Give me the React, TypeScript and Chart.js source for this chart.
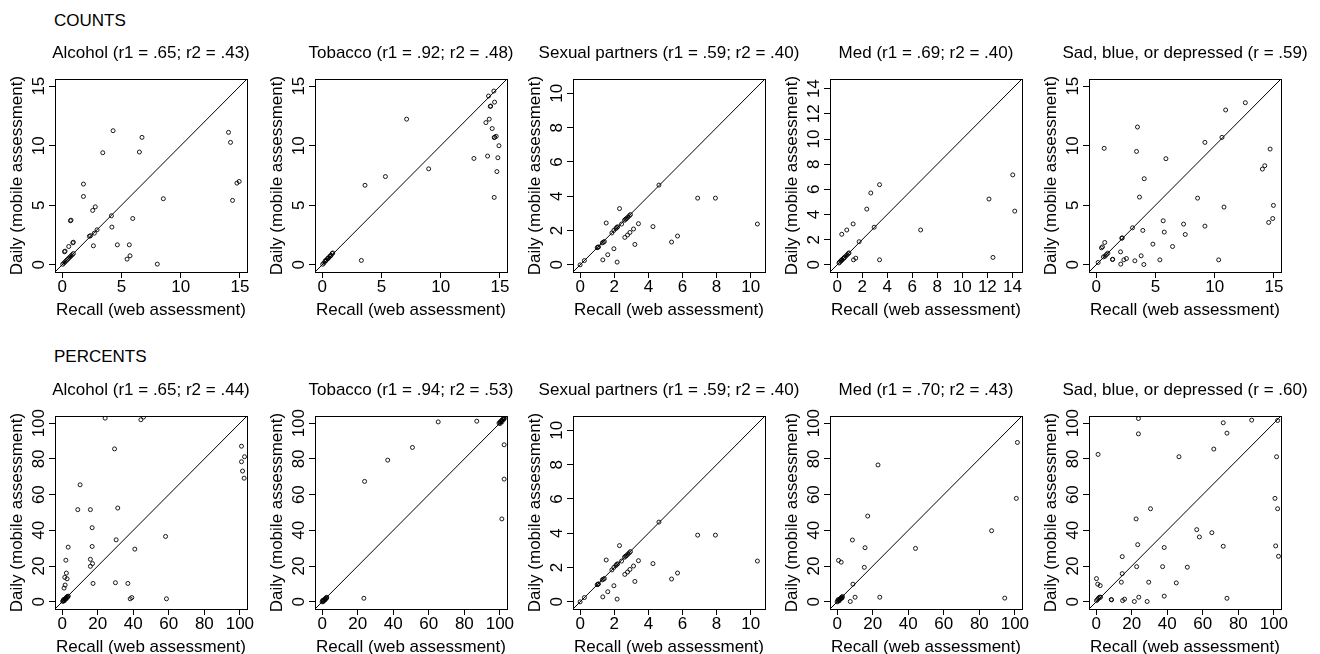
import React, { useEffect, useRef } from "react";
import { Chart, registerables } from "chart.js";

Chart.register(...registerables);

const FONT = "'Liberation Sans', Arial, Helvetica, sans-serif";
const FONT_SIZE = 17;

// ---------- tick labels ----------
const ticks15 = [0, 5, 10, 15];
const ticksSex = [0, 2, 4, 6, 8, 10];
const ticksMed = [0, 2, 4, 6, 8, 10, 12, 14];
const ticksPct = [0, 20, 40, 60, 80, 100];

// ---------- axis data ranges (R adds 4% on each side) ----------
const range15 = [0, 15];
const rangeSex = [0, 10.42];
const rangeMed = [0, 14.2];
const rangePct = [0, 100];

// ---------- text ----------
const rowLabels = ["COUNTS", "PERCENTS"];
const xTitle = "Recall (web assessment)";
const yTitle = "Daily (mobile assessment)";
const countTitles = [
  "Alcohol (r1 = .65; r2 = .43)",
  "Tobacco (r1 = .92; r2 = .48)",
  "Sexual partners (r1 = .59; r2 = .40)",
  "Med (r1 = .69; r2 = .40)",
  "Sad, blue, or depressed (r = .59)",
];
const pctTitles = [
  "Alcohol (r1 = .65; r2 = .44)",
  "Tobacco (r1 = .94; r2 = .53)",
  "Sexual partners (r1 = .59; r2 = .40)",
  "Med (r1 = .70; r2 = .43)",
  "Sad, blue, or depressed (r = .60)",
];

// ---------- COUNTS data ----------
const alcCntX = [0.05, 0.15, 0.25, 0.35, 0.45, 0.55, 0.65, 0.75, 0.85, 0.95, 0.2, 0.25, 0.56, 0.9, 0.95, 0.7, 0.75, 1.8, 1.8, 2.3, 2.4, 2.58, 2.64, 2.72, 2.8, 2.95, 3.43, 4.16, 4.2, 4.3, 4.66, 5.48, 5.67, 5.73, 5.96, 6.52, 6.74, 8.03, 8.54, 14.04, 14.21, 14.38, 14.75, 14.94];
const alcCntY = [0.05, 0.15, 0.25, 0.35, 0.45, 0.55, 0.65, 0.75, 0.85, 0.95, 1.1, 1.15, 1.54, 1.85, 1.9, 3.7, 3.75, 6.78, 5.74, 2.4, 2.45, 4.57, 1.6, 2.66, 4.87, 2.94, 9.41, 4.12, 3.17, 11.26, 1.68, 0.48, 1.68, 0.76, 3.89, 9.47, 10.7, 0.06, 5.55, 11.12, 10.28, 5.41, 6.86, 7.0];

const tobCntX = [0.05, 0.15, 0.25, 0.3, 0.35, 0.45, 0.5, 0.55, 0.65, 0.7, 0.75, 0.85, 0.9, 3.31, 3.62, 5.34, 7.13, 8.99, 12.81, 13.96, 13.82, 14.1, 14.04, 14.49, 14.19, 14.22, 14.55, 14.35, 14.52, 14.56, 14.69, 14.92, 14.83, 14.75, 14.52];
const tobCntY = [0.05, 0.15, 0.3, 0.35, 0.4, 0.5, 0.55, 0.6, 0.7, 0.75, 0.8, 0.95, 1.0, 0.37, 6.68, 7.41, 12.23, 8.06, 8.93, 9.13, 11.94, 12.23, 14.17, 14.59, 13.3, 13.33, 13.66, 11.44, 10.68, 10.72, 10.79, 10.0, 8.99, 7.83, 5.66];

const sexX = [0, 0.25, 1.0, 1.04, 1.08, 1.33, 1.3, 1.36, 1.42, 1.53, 1.62, 1.86, 1.98, 1.98, 2.17, 2.1, 2.15, 2.2, 2.31, 2.43, 2.62, 2.6, 2.66, 2.72, 2.8, 2.88, 2.95, 2.78, 2.92, 3.13, 3.21, 3.42, 4.27, 4.62, 5.36, 5.71, 6.89, 7.93, 10.39];
const sexY = [0, 0.25, 1.0, 1.02, 1.05, 0.29, 1.28, 1.32, 1.36, 2.44, 0.59, 1.86, 0.94, 2.01, 0.16, 2.12, 2.18, 2.22, 3.28, 2.38, 1.6, 2.6, 2.66, 2.7, 2.78, 2.86, 2.93, 1.74, 1.89, 2.09, 1.19, 2.4, 2.23, 4.65, 1.33, 1.68, 3.89, 3.89, 2.38];

const medCntX = [0.15, 0.2, 0.3, 0.35, 0.4, 0.5, 0.55, 0.6, 0.7, 0.8, 0.9, 0.95, 0.37, 0.77, 1.28, 1.31, 1.49, 1.76, 2.37, 2.69, 2.96, 3.39, 3.39, 6.67, 12.13, 12.45, 14.03, 14.19];
const medCntY = [0.15, 0.22, 0.3, 0.38, 0.4, 0.5, 0.55, 0.6, 0.7, 0.8, 0.9, 0.95, 2.43, 2.77, 3.25, 0.4, 0.53, 1.84, 4.43, 5.71, 2.99, 6.37, 0.4, 2.77, 5.23, 0.59, 7.15, 4.27];

const sadCntX = [0.17, 0.45, 0.54, 0.73, 0.68, 0.62, 0.76, 0.87, 0.99, 1.38, 1.4, 2.06, 2.08, 2.17, 2.2, 2.34, 2.56, 3.07, 3.27, 3.41, 3.49, 3.66, 3.8, 3.94, 4.06, 4.03, 4.79, 5.38, 5.66, 5.75, 5.89, 6.45, 7.38, 7.52, 8.56, 9.18, 9.18, 10.34, 10.62, 10.79, 10.93, 12.59, 14.03, 14.23, 14.56, 14.68, 14.9, 14.96];
const sadCntY = [0.2, 1.43, 1.51, 1.88, 9.78, 0.67, 0.73, 0.87, 0.98, 0.45, 0.47, 1.09, 0.06, 2.24, 2.26, 0.42, 0.53, 3.11, 0.34, 9.52, 11.57, 5.69, 0.76, 2.89, 7.23, 0.03, 1.74, 0.42, 3.7, 2.75, 8.91, 1.54, 3.42, 2.55, 5.6, 10.28, 3.25, 0.42, 10.7, 4.85, 13.0, 13.61, 8.04, 8.32, 3.56, 9.72, 3.89, 4.99];

// ---------- PERCENTS data ----------
const alcPctX = [0.3, 0.6, 1, 1.5, 2, 2.5, 3, 3.5, 1.2, 2.2, 0.8, 3, 1.1, 1.7, 1.5, 2.8, 2.4, 2.1, 3.4, 8.8, 10.1, 15.9, 15.9, 15.9, 17.1, 16.9, 16.9, 17.4, 24.2, 29.5, 30.0, 30.4, 31.3, 37.0, 38.3, 39.2, 40.9, 44.3, 45.8, 58.2, 58.7, 100.9, 100.9, 101.5, 102.6, 102.4];
const alcPctY = [0.3, 0.5, 1, 1.5, 2, 2.5, 3, 3.2, 0.6, 1.6, 1.2, 2.6, 7.7, 9.4, 13.7, 12.9, 16.1, 23.3, 30.6, 51.6, 65.5, 51.6, 23.8, 19.9, 21.4, 31.0, 41.5, 10.3, 102.8, 85.6, 10.7, 34.7, 52.5, 10.3, 1.7, 2.4, 29.5, 101.9, 103.4, 36.6, 1.7, 87.1, 78.4, 73.2, 81.2, 69.2];

const tobPctX = [0, 0.5, 1, 1.5, 2, 2.5, 0.8, 1.8, 2.6, 0.3, 23.5, 23.9, 36.9, 50.8, 65.3, 87.0, 99.5, 100, 100.5, 101, 101.5, 102, 102.5, 100.2, 101.2, 102.3, 102.4, 102.4, 101.1];
const tobPctY = [0, 0.5, 1, 1.5, 2, 2.5, 0.3, 1.2, 2.2, 0.8, 2.0, 67.4, 79.3, 86.4, 100.7, 101.1, 100, 100.5, 101, 101.5, 102, 102.5, 103, 99.8, 100.8, 102.2, 87.9, 68.7, 46.4];

// The "Sexual partners" percents panel shows the same values as the counts panel
const sexPctX = sexX;
const sexPctY = sexY;

const medPctX = [0, 0.5, 1, 1.5, 2, 2.5, 3, 0.5, 1.2, 2.2, 2.8, 0.8, 2.3, 7.4, 8.6, 8.9, 10.1, 15.3, 15.7, 17.2, 23.0, 24.0, 44.1, 86.9, 94.3, 100.8, 101.4];
const medPctY = [0, 0.5, 1, 1.5, 2, 2.5, 3, 1.2, 0.6, 1.8, 2.2, 23.2, 22.2, 0.2, 34.6, 9.9, 2.6, 19.3, 30.3, 48.0, 76.6, 2.6, 29.9, 39.8, 2.1, 57.9, 89.2];

const sadPctX = [0.2, 1.1, 0.9, 2.3, 0.8, 1.3, 1.9, 2.5, 0.2, 8.5, 8.7, 14.2, 14.7, 14.7, 14.9, 16.0, 21.5, 22.5, 22.8, 23.4, 23.8, 23.8, 24.0, 28.7, 29.6, 30.6, 37.4, 38.3, 38.3, 46.6, 45.1, 51.3, 56.6, 58.1, 65.1, 66.2, 71.5, 71.5, 73.6, 73.6, 87.5, 100.6, 101.0, 101.5, 102.1, 102.1, 102.6];
const sadPctY = [13.0, 82.5, 9.9, 9.1, 1.3, 2.0, 2.6, 2.6, 0.7, 1.3, 1.1, 11.0, 25.3, 15.8, 0.7, 1.5, 0.2, 46.4, 19.7, 32.0, 102.6, 94.0, 2.6, 0.2, 11.0, 52.1, 19.7, 30.4, 3.2, 81.2, 10.6, 19.4, 40.4, 36.3, 38.7, 85.5, 100.2, 31.1, 94.4, 2.0, 101.7, 57.9, 31.3, 81.2, 52.1, 101.5, 25.5];

type Panel = { title: string; x: number[]; y: number[]; ticks: number[]; range: number[] };

const countPanels: Panel[] = [
  { title: countTitles[0], x: alcCntX, y: alcCntY, ticks: ticks15, range: range15 },
  { title: countTitles[1], x: tobCntX, y: tobCntY, ticks: ticks15, range: range15 },
  { title: countTitles[2], x: sexX, y: sexY, ticks: ticksSex, range: rangeSex },
  { title: countTitles[3], x: medCntX, y: medCntY, ticks: ticksMed, range: rangeMed },
  { title: countTitles[4], x: sadCntX, y: sadCntY, ticks: ticks15, range: range15 },
];
const pctPanels: Panel[] = [
  { title: pctTitles[0], x: alcPctX, y: alcPctY, ticks: ticksPct, range: rangePct },
  { title: pctTitles[1], x: tobPctX, y: tobPctY, ticks: ticksPct, range: rangePct },
  { title: pctTitles[2], x: sexPctX, y: sexPctY, ticks: ticksSex, range: rangeSex },
  { title: pctTitles[3], x: medPctX, y: medPctY, ticks: ticksPct, range: rangePct },
  { title: pctTitles[4], x: sadPctX, y: sadPctY, ticks: ticksPct, range: rangePct },
];
const rows = [countPanels, pctPanels];

// ---------- layout ----------
const COL_LEFT = [55, 315, 573, 830, 1089];
const ROW_TOP = [79, 416];
const ROW_LABEL_BASE = [26, 362];
const PLOT_W = 192;
const PLOT_H = 193;
const AXIS_W = 52;
const TOP_PAD = 40;
const XAXIS_H = 48;
const RIGHT_PAD = 52;
const TICK_LEN = 6;

let measureCtx: CanvasRenderingContext2D | null = null;
function textWidth(s: string) {
  if (!measureCtx) measureCtx = document.createElement("canvas").getContext("2d");
  measureCtx!.font = `${FONT_SIZE}px ${FONT}`;
  return measureCtx!.measureText(s).width;
}

const rFrame = {
  id: "rFrame",
  afterDraw(chart: any, _args: any, opts: any) {
    const { ctx, chartArea } = chart;
    const { left, right, top, bottom } = chartArea;
    const cx = (left + right) / 2;
    const cy = (top + bottom) / 2;
    ctx.save();
    ctx.strokeStyle = "#000";
    ctx.lineWidth = 1;
    ctx.strokeRect(Math.round(left) + 0.5, Math.round(top) + 0.5, Math.round(right - left), Math.round(bottom - top));
    ctx.fillStyle = "#000";
    ctx.font = `${FONT_SIZE}px ${FONT}`;
    ctx.textAlign = "center";
    ctx.textBaseline = "alphabetic";
    ctx.fillText(opts.title, cx, top - 21.5);
    ctx.fillText(opts.xTitle, cx, bottom + 43.3);
    ctx.translate(left - 33.5, cy);
    ctx.rotate(-Math.PI / 2);
    ctx.fillText(opts.yTitle, 0, 0);
    ctx.restore();
  },
};

function PanelChart({ panel, left, top }: { panel: Panel; left: number; top: number }) {
  const ref = useRef<HTMLCanvasElement>(null);
  useEffect(() => {
    if (!ref.current) return;
    const [lo, hi] = panel.range;
    const ext = 0.04 * (hi - lo);
    const min = lo - ext;
    const max = hi + ext;
    const labels = panel.ticks.map((t) => String(t));
    const widest = Math.max(...labels.map(textWidth));
    const tickFont = { family: FONT, size: FONT_SIZE, lineHeight: 1 };
    const grid = { drawOnChartArea: false, drawTicks: true, tickLength: TICK_LEN, color: "#000", lineWidth: 1 };
    const setTicks = (s: any) => {
      s.ticks = panel.ticks.map((v) => ({ value: v }));
    };
    const chart = new Chart(ref.current, {
      type: "scatter",
      data: {
        datasets: [
          {
            data: [
              { x: min, y: min },
              { x: max, y: max },
            ],
            showLine: true,
            borderColor: "#000",
            borderWidth: 1,
            pointRadius: 0,
          },
          {
            data: panel.x.map((v, i) => ({ x: v, y: panel.y[i] })),
            pointStyle: "circle",
            pointRadius: 2,
            borderColor: "#000",
            backgroundColor: "rgba(0,0,0,0)",
            borderWidth: 0.9,
            showLine: false,
          },
        ],
      },
      options: {
        responsive: false,
        animation: false,
        events: [],
        layout: { padding: { left: 0, right: RIGHT_PAD, top: TOP_PAD, bottom: 0 } },
        plugins: {
          legend: { display: false },
          tooltip: { enabled: false },
          title: { display: false },
          rFrame: { title: panel.title, xTitle, yTitle },
        } as any,
        scales: {
          x: {
            type: "linear",
            position: "bottom",
            min,
            max,
            afterBuildTicks: setTicks,
            afterFit: (s: any) => {
              s.height = XAXIS_H;
            },
            border: { display: false },
            grid,
            ticks: {
              autoSkip: false,
              minRotation: 0,
              maxRotation: 0,
              padding: 1,
              color: "#000",
              font: tickFont,
              callback: (v: any) => String(v),
            },
            title: { display: false },
          },
          y: {
            type: "linear",
            position: "left",
            min,
            max,
            afterBuildTicks: setTicks,
            afterFit: (s: any) => {
              s.width = AXIS_W;
            },
            border: { display: false },
            grid,
            ticks: {
              autoSkip: false,
              minRotation: 90,
              maxRotation: 90,
              crossAlign: "center",
              padding: 15.7 - TICK_LEN - widest / 2,
              color: "#000",
              font: tickFont,
              callback: (v: any) => String(v),
            },
            title: { display: false },
          },
        },
      } as any,
      plugins: [rFrame],
    });
    return () => chart.destroy();
  }, [panel]);
  return (
    <canvas
      ref={ref}
      width={AXIS_W + PLOT_W + RIGHT_PAD}
      height={TOP_PAD + PLOT_H + XAXIS_H}
      style={{ position: "absolute", left: left - AXIS_W, top: top - TOP_PAD, display: "block" }}
    />
  );
}

export default function App() {
  return (
    <div
      style={{
        position: "absolute",
        left: 0,
        top: 0,
        width: 1320,
        height: 654,
        overflow: "hidden",
        background: "#fff",
        fontFamily: FONT,
      }}
    >
      {rowLabels.map((lab, r) => (
        <div
          key={lab}
          style={{
            position: "absolute",
            left: 54,
            top: ROW_LABEL_BASE[r] - 0.905 * FONT_SIZE,
            fontSize: FONT_SIZE,
            lineHeight: "normal",
            color: "#000",
            whiteSpace: "nowrap",
          }}
        >
          {lab}
        </div>
      ))}
      {rows.map((panels, r) =>
        panels.map((p, c) => <PanelChart key={`${r}-${c}`} panel={p} left={COL_LEFT[c]} top={ROW_TOP[r]} />)
      )}
    </div>
  );
}
